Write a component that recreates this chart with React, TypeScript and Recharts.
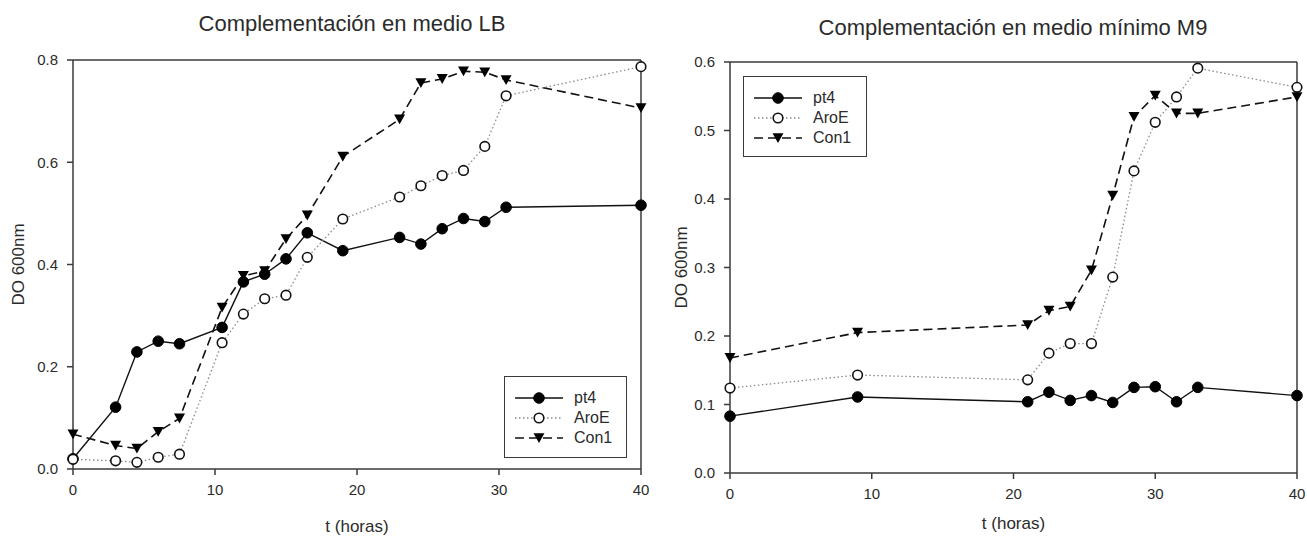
import React from 'react'
import { LineChart, Line, XAxis, YAxis, ReferenceLine } from 'recharts'

// ── Data: Complementación en medio LB ────────────────────────────────────────

const lbTime = [0, 3, 4.5, 6, 7.5, 10.5, 12, 13.5, 15, 16.5, 19, 23, 24.5, 26, 27.5, 29, 30.5, 40]
const lbPt4 = [0.02, 0.121, 0.229, 0.25, 0.245, 0.277, 0.366, 0.381, 0.411, 0.462, 0.427, 0.453, 0.44, 0.47, 0.49, 0.484, 0.512, 0.516]
const lbAroE = [0.019, 0.016, 0.013, 0.023, 0.029, 0.247, 0.303, 0.333, 0.34, 0.414, 0.489, 0.532, 0.554, 0.574, 0.584, 0.631, 0.73, 0.787]
const lbCon1 = [0.068, 0.046, 0.04, 0.073, 0.099, 0.316, 0.378, 0.387, 0.45, 0.496, 0.611, 0.684, 0.755, 0.763, 0.778, 0.776, 0.761, 0.706]
const lbYTicks = [0, 0.2, 0.4, 0.6, 0.8]

// ── Data: Complementación en medio mínimo M9 ─────────────────────────────────

const m9Time = [0, 9, 21, 22.5, 24, 25.5, 27, 28.5, 30, 31.5, 33, 40]
const m9Pt4 = [0.083, 0.111, 0.104, 0.118, 0.106, 0.113, 0.103, 0.125, 0.126, 0.104, 0.125, 0.113]
const m9AroE = [0.124, 0.143, 0.136, 0.175, 0.189, 0.189, 0.286, 0.441, 0.512, 0.549, 0.591, 0.563]
const m9Con1 = [0.168, 0.205, 0.216, 0.237, 0.243, 0.296, 0.405, 0.52, 0.551, 0.525, 0.525, 0.549]
const m9YTicks = [0, 0.1, 0.2, 0.3, 0.4, 0.5, 0.6]

const xTicks = [0, 10, 20, 30, 40]
const seriesNames = ['pt4', 'AroE', 'Con1']

// ── Styles ───────────────────────────────────────────────────────────────────

const FONT = '"Liberation Sans", Arial, sans-serif'
const INK = '#2b2b2b'
const AXIS = '#3a3a3a'

type Kind = 'filled' | 'open' | 'tri'

const SERIES: { key: string; name: string; kind: Kind; stroke: string; width: number; dash?: string }[] = [
  { key: 'pt4', name: seriesNames[0], kind: 'filled', stroke: '#111', width: 1.4 },
  { key: 'aroE', name: seriesNames[1], kind: 'open', stroke: '#8a8a8a', width: 1.3, dash: '1.5 2.5' },
  { key: 'con1', name: seriesNames[2], kind: 'tri', stroke: '#111', width: 1.6, dash: '9 5' },
]

function Marker({ kind, cx, cy }: { kind: Kind; cx: number; cy: number }) {
  if (kind === 'filled') return <circle cx={cx} cy={cy} r={5.3} fill="#000" stroke="#000" strokeWidth={1} />
  if (kind === 'open') return <circle cx={cx} cy={cy} r={4.8} fill="#fff" stroke="#111" strokeWidth={1.6} />
  return <path d={`M${cx - 5.5},${cy - 4.8} L${cx + 5.5},${cy - 4.8} L${cx},${cy + 5} Z`} fill="#000" />
}

const makeDot = (kind: Kind) =>
  // eslint-disable-next-line @typescript-eslint/no-explicit-any
  (props: any) => {
    const { cx, cy, index } = props
    if (cx == null || cy == null) return <g key={`d-${index}`} />
    return (
      <g key={`d-${kind}-${index}`}>
        <Marker kind={kind} cx={cx} cy={cy} />
      </g>
    )
  }

function LegendBox({ left, top, width, height }: { left: number; top: number; width: number; height: number }) {
  return (
    <div
      style={{
        position: 'absolute', left, top, width, height, boxSizing: 'border-box',
        border: `1.5px solid ${AXIS}`, background: '#fff', paddingTop: 11, paddingLeft: 10,
        fontFamily: FONT, fontSize: 16, color: INK,
      }}
    >
      {SERIES.map((s) => (
        <div key={s.key} style={{ display: 'flex', alignItems: 'center', height: 20 }}>
          <svg width={50} height={16} style={{ display: 'block' }}>
            <line x1={0} y1={8} x2={48} y2={8} stroke={s.stroke} strokeWidth={s.width} strokeDasharray={s.dash} />
            <Marker kind={s.kind} cx={24} cy={8} />
          </svg>
          <span style={{ marginLeft: 9, lineHeight: '16px' }}>{s.name}</span>
        </div>
      ))}
    </div>
  )
}

interface PanelProps {
  time: number[]
  pt4: number[]
  aroE: number[]
  con1: number[]
  yTicks: number[]
  yMax: number
  width: number
  height: number
  yAxisWidth: number
  margin: { top: number; right: number; left: number; bottom: number }
  xAxisHeight: number
  yLabelOffset: number
  xLabelOffset: number
}

function Panel(p: PanelProps) {
  const data = p.time.map((t, i) => ({ t, pt4: p.pt4[i], aroE: p.aroE[i], con1: p.con1[i] }))
  const tick = { fill: INK, fontSize: 15, fontFamily: FONT }
  return (
    <LineChart width={p.width} height={p.height} data={data} margin={p.margin}>
      <XAxis
        type="number"
        dataKey="t"
        domain={[0, 40]}
        ticks={xTicks}
        tick={tick}
        tickSize={6}
        tickMargin={9}
        height={p.xAxisHeight}
        stroke={AXIS}
        strokeWidth={1.5}
        label={{ value: 't (horas)', position: 'insideBottom', offset: p.xLabelOffset, fill: INK, fontSize: 17, fontFamily: FONT }}
      />
      <YAxis
        type="number"
        domain={[0, p.yMax]}
        ticks={p.yTicks}
        tickFormatter={(v: number) => v.toFixed(1)}
        tick={tick}
        tickSize={6}
        tickMargin={9}
        width={p.yAxisWidth}
        stroke={AXIS}
        strokeWidth={1.5}
        label={{
          value: 'DO 600nm', angle: -90, position: 'insideLeft', offset: p.yLabelOffset,
          fill: INK, fontSize: 17, fontFamily: FONT, style: { textAnchor: 'middle' },
        }}
      />
      <ReferenceLine x={40} stroke={AXIS} strokeWidth={1.5} />
      <ReferenceLine y={p.yMax} stroke={AXIS} strokeWidth={1.5} />
      {SERIES.map((s) => (
        <Line
          key={s.key}
          type="linear"
          dataKey={s.key}
          name={s.name}
          stroke={s.stroke}
          strokeWidth={s.width}
          strokeDasharray={s.dash}
          dot={makeDot(s.kind)}
          activeDot={false}
          isAnimationActive={false}
        />
      ))}
    </LineChart>
  )
}

const titleStyle: React.CSSProperties = {
  position: 'absolute', fontFamily: FONT, fontSize: 22, lineHeight: '22px', color: INK,
  whiteSpace: 'nowrap', transform: 'translateX(-50%)',
}

export default function App() {
  return (
    <div style={{ position: 'absolute', left: 0, top: 0, width: 1307, height: 539, background: '#fff', overflow: 'hidden' }}>
      <div style={{ position: 'absolute', left: 0, top: 0 }}>
        <Panel
          time={lbTime} pt4={lbPt4} aroE={lbAroE} con1={lbCon1}
          yTicks={lbYTicks} yMax={0.8}
          width={660} height={539} yAxisWidth={73}
          margin={{ top: 60, right: 19, left: 0, bottom: 0 }}
          xAxisHeight={70} yLabelOffset={18} xLabelOffset={7}
        />
      </div>
      <div style={{ position: 'absolute', left: 660, top: 0 }}>
        <Panel
          time={m9Time} pt4={m9Pt4} aroE={m9AroE} con1={m9Con1}
          yTicks={m9YTicks} yMax={0.6}
          width={647} height={539} yAxisWidth={70}
          margin={{ top: 62, right: 10, left: 0, bottom: 0 }}
          xAxisHeight={66} yLabelOffset={21} xLabelOffset={10}
        />
      </div>
      <div style={{ ...titleStyle, left: 352, top: 13 }}>Complementación en medio LB</div>
      <div style={{ ...titleStyle, left: 1013, top: 17 }}>Complementación en medio mínimo M9</div>
      <LegendBox left={504} top={376} width={123} height={82} />
      <LegendBox left={743} top={76} width={124} height={81} />
    </div>
  )
}
